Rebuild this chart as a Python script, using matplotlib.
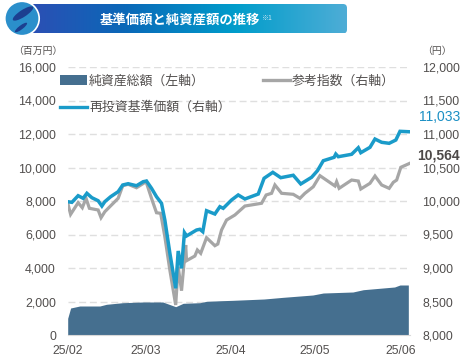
import numpy as np
import matplotlib
matplotlib.use("Agg")
import matplotlib.pyplot as plt
from matplotlib.colors import LinearSegmentedColormap
from matplotlib.patches import FancyBboxPatch, Circle, Ellipse, Patch
from matplotlib.lines import Line2D

CJK = ["Noto Sans CJK JP", "DejaVu Sans"]
NUM = ["Liberation Sans", "DejaVu Sans"]
TXT = "#524f4e"

title = "基準価額と純資産額の推移"
title_note = "※1"
unit_left = "（百万円）"
unit_right = "（円）"
label_area = "純資産総額（左軸）"
label_gray = "参考指数（右軸）"
label_blue = "再投資基準価額（右軸）"
x_tick_pos = [0, 18.6, 39.2, 59.2, 79.9]
x_tick_labels = ["25/02", "25/03", "25/04", "25/05", "25/06"]
left_ticks = [0, 2000, 4000, 6000, 8000, 10000, 12000, 14000, 16000]
right_ticks = [8000, 8500, 9000, 9500, 10000, 10500, 11000, 11500, 12000]

blue_day = [0, 1, 2.5, 3.7, 4.6, 5.8, 7.3, 8.2, 8.9, 10.3, 12.1, 13.2, 14.5, 16.5, 18.1, 18.9, 20.1, 21.3, 22.5,
            23.3, 24.5, 25.9, 26.5, 27.3, 28, 28.5, 30.9, 31.7, 32.4, 33.3, 35.3, 36.5, 37.3, 39.3, 40.9, 42.5,
            45.7, 47.1, 49.2, 51.1, 54.1, 55.9, 58.5, 59.9, 61.3, 63.9, 64.3, 64.9, 68.1, 69.7, 70.3, 72.5, 73.7,
            75.3, 77.1, 78.7, 79.7, 82.1]
blue_val = [9990, 9980, 10079, 10040, 10115, 10049, 10004, 9925, 9990, 10064, 10139, 10239, 10258, 10228, 10288,
            10298, 10190, 10064, 9966, 9716, 9224, 8697, 9254, 8995, 9527, 9478, 9567, 9578, 9542, 9855, 9806,
            9915, 9891, 10015, 10090, 10030, 10104, 10339, 10428, 10348, 10384, 10254, 10354, 10452, 10601, 10652,
            10701, 10661, 10697, 10795, 10721, 10801, 10925, 10876, 10861, 10910, 11040, 11033]

gray_day = [0, 0.7, 2.5, 3.5, 4.4, 5.2, 7.3, 8, 8.9, 12.1, 13.2, 14.5, 16.5, 18.8, 20.1, 21.3, 22.3, 23.3, 24.5,
            25.9, 26.5, 27.3, 28.3, 28.5, 30.5, 31.1, 31.9, 33.3, 35.3, 36, 36.9, 38.1, 40.1, 42.5, 46.5, 47.6,
            48.9, 49.7, 51.3, 54.1, 55.7, 56.9, 58.9, 60.5, 64.1, 64.5, 65.1, 68.1, 69.7, 70.3, 72.5, 73.7, 75.3,
            77.1, 78.1, 78.9, 79.9, 82.1]
gray_val = [9970, 9801, 9975, 9900, 10040, 9891, 9866, 9751, 9840, 10040, 10228, 10249, 10198, 10288, 10040, 9825,
            9816, 9467, 8970, 8448, 9019, 8661, 9343, 9109, 9179, 9269, 9219, 9452, 9333, 9358, 9567, 9716, 9791,
            9925, 9966, 10090, 10115, 10239, 10115, 10100, 10040, 10115, 10213, 10378, 10224, 10288, 10189, 10313,
            10298, 10179, 10264, 10373, 10239, 10189, 10279, 10313, 10503, 10564]

area_day = [0, 0.7, 2.9, 7.7, 9.3, 13.2, 18, 22.8, 25.9, 27.7, 31.7, 33.3, 36.9, 39.6, 47.1, 51.7, 58.8, 61.3,
            68.4, 70.9, 78.4, 79.7, 81.7]
area_val = [997, 1612, 1731, 1731, 1833, 1928, 1970, 1970, 1690, 1892, 1928, 2012, 2048, 2070, 2149, 2250, 2388,
            2507, 2567, 2704, 2866, 2985, 2985]

last_blue = "11,033"
last_gray = "10,564"

fig = plt.figure(figsize=(4.63, 3.59), dpi=100)
fig.patch.set_facecolor("white")
W, H = 463, 359
ax = fig.add_axes([67.7 / W, (H - 335) / H, (410 - 67.7) / W, 268 / H])
ax.set_xlim(0, 82.1)
ax.set_ylim(0, 16000)
ax.set_yticks(left_ticks)
ax.set_yticklabels([f"{v:,}" for v in left_ticks], family=NUM, fontsize=8.9, color=TXT)
ax.set_xticks(x_tick_pos)
ax.set_xticklabels(x_tick_labels, family=NUM, fontsize=8.7, color=TXT)
ax.tick_params(axis="both", length=0)
ax.tick_params(axis="y", pad=8.5)
ax.tick_params(axis="x", pad=7)
ax.grid(axis="y", color="#dfdfdf", lw=1.0, dashes=(5, 2.7))
ax.set_axisbelow(True)
for s in ax.spines.values():
    s.set_visible(False)
ax.spines["bottom"].set_visible(True)
ax.spines["bottom"].set_color("#d9d9d9")
ax.fill_between(area_day, area_val, 0, color="#456f8f", lw=0, zorder=2)

ax2 = ax.twinx()
ax2.set_ylim(8000, 12000)
ax2.set_yticks(right_ticks)
ax2.set_yticklabels([f"{v:,}" for v in right_ticks], family=NUM, fontsize=8.9, color=TXT)
ax2.tick_params(axis="y", length=0, pad=9)
for s in ax2.spines.values():
    s.set_visible(False)
ax2.plot(gray_day, gray_val, color="#a6a6a6", lw=2.3, solid_joinstyle="miter", zorder=3)
ax2.plot(blue_day, blue_val, color="#1a9bc9", lw=2.5, solid_joinstyle="miter", zorder=4)

ax2.annotate(last_blue, xy=(1, blue_val[-1]), xycoords=("axes fraction", "data"), xytext=(36, 10.8),
             textcoords="offset points", ha="right", va="center", family=NUM, fontsize=10, color="#1a8fc4")
ax2.annotate(last_gray, xy=(1, gray_val[-1]), xycoords=("axes fraction", "data"), xytext=(36, 5.8),
             textcoords="offset points", ha="right", va="center", family=NUM, fontsize=10, fontweight="bold", color="#4d4948")

handles = [Patch(facecolor="#456f8f", edgecolor="none"), Line2D([], [], color="#1a9bc9", lw=2.4),
           Line2D([], [], color="#a6a6a6", lw=2.4)]
labels = [label_area, label_blue, label_gray]
leg = ax2.legend(handles, labels, ncol=2, loc="upper left", bbox_to_anchor=(60 / W, (H - 74.5) / H),
                 bbox_transform=fig.transFigure, frameon=False, borderpad=0, borderaxespad=0,
                 handlelength=2.1, handletextpad=0.15, columnspacing=2.5, labelspacing=1.05,
                 prop={"family": CJK, "size": 9.3}, labelcolor=TXT)

fig.text(37.5 / W, (H - 51) / H, unit_left, family=CJK, fontsize=7.1, color=TXT, ha="center", va="center")
fig.text(437 / W, (H - 51) / H, unit_right, family=CJK, fontsize=7.1, color=TXT, ha="center", va="center")

# banner
bax = fig.add_axes([0, 0, 1, 1], zorder=5)
bax.set_xlim(0, W)
bax.set_ylim(H, 0)
bax.axis("off")
cm = LinearSegmentedColormap.from_list("b", [(0, "#2c4fb4"), (0.3, "#0a68b8"), (0.65, "#009dcb"), (1, "#4eadd6")])
im = bax.imshow(np.linspace(0, 1, 256)[None, :], extent=(30, 347, 33.5, 4), cmap=cm, aspect="auto", zorder=1)
clip = FancyBboxPatch((30, 4), 317, 29.5, boxstyle="round,pad=0,rounding_size=4", transform=bax.transData,
                      facecolor="none", edgecolor="none")
bax.add_patch(clip)
im.set_clip_path(clip)
bax.set_xlim(0, W)
bax.set_ylim(H, 0)
bax.add_patch(Circle((22, 18.5), 17.2, facecolor="#2b8fcb", edgecolor="white", lw=1.2, zorder=2))
bax.add_patch(Ellipse((23, 13.5), 24, 7, angle=-33, facecolor="#1c3f90", edgecolor="none", zorder=3))
bax.add_patch(Ellipse((21, 27.5), 15, 4, angle=-37, facecolor="#1c3f90", edgecolor="none", zorder=3))
bax.text(180, 19.3, title, family=CJK, fontsize=9.6, fontweight="bold", color="white", ha="center", va="center", zorder=4)
bax.text(266, 18.5, title_note, family=CJK, fontsize=5, color="#cfe6f3", ha="center", va="center", zorder=4)

fig.savefig("out.png", dpi=100)
